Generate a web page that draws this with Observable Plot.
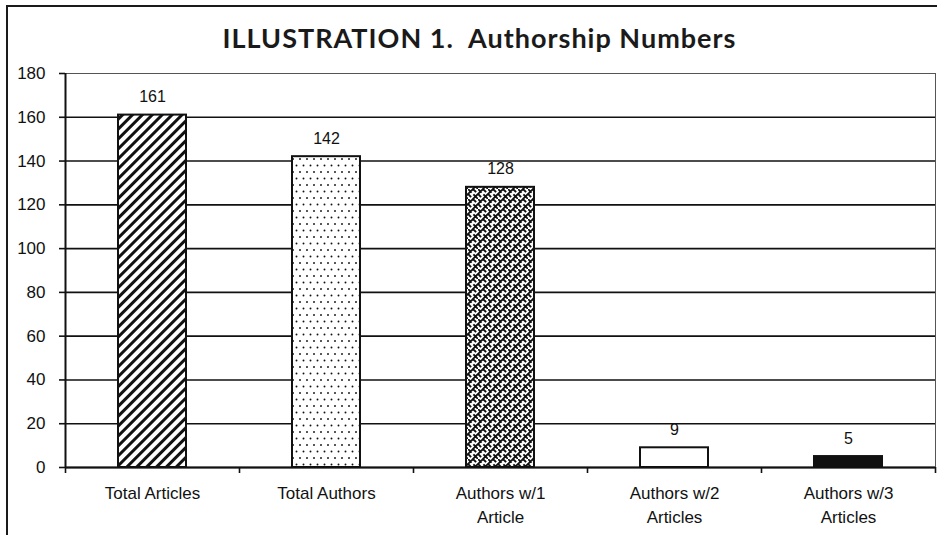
<!DOCTYPE html>
<html>
<head>
<meta charset="utf-8">
<script src="https://cdn.jsdelivr.net/npm/d3@7"></script>
<script src="https://cdn.jsdelivr.net/npm/@observablehq/plot@0.6"></script>
<style>
  html, body { margin: 0; padding: 0; background: #fff; width: 937px; height: 535px; overflow: hidden; }
  #frame { position: absolute; left: 6px; top: 5px; width: 940px; height: 540px;
           border-top: 2px solid #1a1a1a; border-left: 2px solid #1a1a1a; }
  #title { height: 52px; box-sizing: border-box; padding-top: 16px; padding-left: 14px;
           font: bold 27px Lato, "Open Sans", sans-serif; letter-spacing: 1px; line-height: 30px; text-align: center;
           white-space: pre; color: #1a1a1a; width: 929px; }
</style>
</head>
<body>
<div id="frame">
  <div id="title">ILLUSTRATION 1.  Authorship Numbers</div>
  <div id="chart"></div>
</div>
<script>
const categories = ["Total Articles", "Total Authors", "Authors w/1\nArticle", "Authors w/2\nArticles", "Authors w/3\nArticles"];
const values = [161, 142, 128, 9, 5];
const yTicks = [0, 20, 40, 60, 80, 100, 120, 140, 160, 180];

const rows = categories.map((c, i) => ({cat: c, i, value: values[i]}));

const defs = () => {
  const g = document.createElementNS("http://www.w3.org/2000/svg", "g");
  g.innerHTML = `
  <defs>
    <pattern id="pDiag" patternUnits="userSpaceOnUse" width="7" height="7" patternTransform="rotate(45)">
      <rect width="7" height="7" fill="#fff"/>
      <rect x="0" y="0" width="3" height="7" fill="#111"/>
    </pattern>
    <pattern id="pDots" patternUnits="userSpaceOnUse" width="7" height="13">
      <rect width="7" height="13" fill="#fff"/>
      <circle cx="1.5" cy="2.5" r="0.95" fill="#111"/>
      <circle cx="5" cy="9" r="0.95" fill="#111"/>
    </pattern>
    <pattern id="pWeave" patternUnits="userSpaceOnUse" width="10" height="10">
      <rect width="10" height="10" fill="#fff"/>
      <path d="M0,5 L5,0 M5,10 L10,5 M5,0 L7.5,2.5 M0,5 L2.5,7.5 M-1,1 L1,-1 M9,11 L11,9 M6,6 L10,10 M0,0 L3,3"
            stroke="#111" stroke-width="1.8" fill="none" stroke-linecap="square"/>
    </pattern>
  </defs>`;
  return g;
};

const chart = Plot.plot({
  width: 929,
  height: 470,
  marginLeft: 57,
  marginRight: 2,
  marginTop: 14,
  marginBottom: 62,
  style: {fontFamily: "'Liberation Sans', Arial, sans-serif", fontSize: "17px", color: "#111", background: "#fff", overflow: "visible"},
  x: {domain: [0, categories.length], axis: null},
  y: {domain: [0, 180], axis: null},
  color: {domain: categories, range: ["url(#pDiag)", "url(#pDots)", "url(#pWeave)", "#fff", "#111"]},
  marks: [
    defs,
    Plot.ruleY(yTicks.filter(t => t < 180), {stroke: "#111", strokeWidth: 1.6}),
    Plot.ruleY([180], {stroke: "#555", strokeWidth: 1}),
    Plot.ruleX([categories.length], {stroke: "#555", strokeWidth: 1}),
    Plot.rectY(rows, {x1: "i", x2: d => d.i + 1, y: "value", insetLeft: 53, insetRight: 53,
      fill: "cat", stroke: "#111", strokeWidth: 2}),
    Plot.text(rows, {x: d => d.i + 0.5, y: "value", text: d => String(d.value), dy: -18,
      fontSize: 16, fill: "#111"}),
    Plot.axisY({ticks: yTicks, tickSize: 6, tickPadding: 14, fontSize: 17, label: null, stroke: "#111", strokeWidth: 1.6}),
    Plot.axisX({ticks: d3.range(categories.length + 1), tickSize: 6, tickFormat: () => "", label: null, stroke: "#111", strokeWidth: 1.6}),
    Plot.axisX({ticks: categories.map((c, i) => i + 0.5), tickFormat: d => categories[Math.floor(d)],
      tickSize: 0, tickPadding: 14, lineHeight: 1.42, fontSize: 17, label: null}),
    Plot.ruleX([0], {stroke: "#111", strokeWidth: 2}),
    Plot.ruleY([0], {stroke: "#111", strokeWidth: 2})
  ]
});
document.getElementById("chart").appendChild(chart);
</script>
</body>
</html>
